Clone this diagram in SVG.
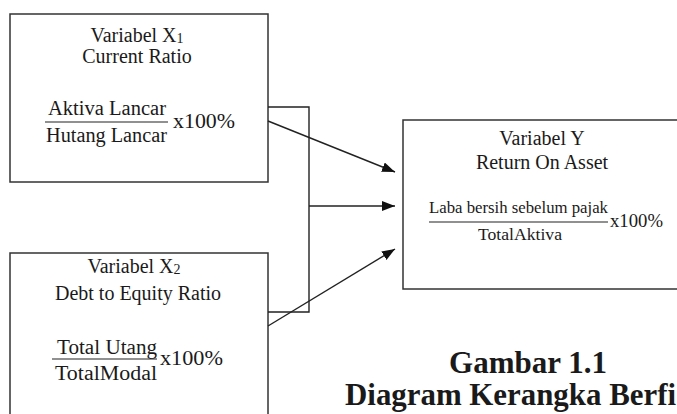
<svg xmlns="http://www.w3.org/2000/svg" width="677" height="414" viewBox="0 0 677 414">
<defs>
<style>
.box{fill:#fff;stroke:#333;stroke-width:1.5}
.ln{fill:none;stroke:#222;stroke-width:1.4}
.fr{stroke:#222;stroke-width:1.2}
text{font-family:"Liberation Serif","Times New Roman",serif;fill:#1a1a1a}
.t{font-size:20px;text-anchor:middle}
.f{font-size:20px}
.cap{font-size:31px;font-weight:bold}
</style>
<marker id="ah" markerUnits="userSpaceOnUse" markerWidth="14" markerHeight="12" refX="13" refY="5" orient="auto">
<path d="M0,0 L13,5 L0,10 Z" fill="#111"/>
</marker>
</defs>
<rect width="677" height="414" fill="#fff"/>
<g id="x1">
<rect class="box" x="10" y="14" width="258" height="168"/>
<text class="t" x="137" y="42">Variabel X<tspan font-size="14" dy="1">1</tspan></text>
<text class="t" x="137" y="63">Current Ratio</text>
<text class="f" x="48" y="115" textLength="118" lengthAdjust="spacingAndGlyphs">Aktiva Lancar</text>
<line class="fr" x1="45" y1="122" x2="168" y2="122"/>
<text class="f" x="46" y="142" textLength="121" lengthAdjust="spacingAndGlyphs">Hutang Lancar</text>
<text class="f" x="173" y="128" textLength="62" lengthAdjust="spacingAndGlyphs">x100%</text>
</g>
<g id="x2">
<rect class="box" x="10" y="253" width="258" height="180"/>
<text class="t" x="134" y="273">Variabel X<tspan font-size="14" dy="1">2</tspan></text>
<text class="t" x="138" y="300">Debt to Equity Ratio</text>
<text class="f" x="57" y="354" textLength="100" lengthAdjust="spacingAndGlyphs">Total Utang</text>
<line class="fr" x1="52" y1="359" x2="157" y2="359"/>
<text class="f" x="55" y="380" textLength="102" lengthAdjust="spacingAndGlyphs">TotalModal</text>
<text class="f" x="160" y="365" textLength="63" lengthAdjust="spacingAndGlyphs">x100%</text>
</g>
<g id="y">
<rect class="box" x="403" y="120" width="290" height="169"/>
<text class="t" x="542" y="145">Variabel Y</text>
<text class="t" x="542" y="169">Return On Asset</text>
<text x="429" y="213" font-size="17" textLength="179" lengthAdjust="spacingAndGlyphs">Laba bersih sebelum pajak</text>
<line class="fr" x1="429" y1="222" x2="608" y2="222"/>
<text x="478" y="240" font-size="17" textLength="84" lengthAdjust="spacingAndGlyphs">TotalAktiva</text>
<text x="610" y="227" font-size="19" textLength="53" lengthAdjust="spacingAndGlyphs">x100%</text>
</g>
<g id="connectors">
<polyline class="ln" points="268,107 309,107 309,312 268,312"/>
<line class="ln" x1="309" y1="206" x2="395" y2="206" marker-end="url(#ah)"/>
<line class="ln" x1="268" y1="121" x2="395" y2="172" marker-end="url(#ah)"/>
<line class="ln" x1="268" y1="326" x2="395" y2="249" marker-end="url(#ah)"/>
</g>
<g id="caption">
<text class="cap" x="528" y="373" text-anchor="middle">Gambar 1.1</text>
<text class="cap" x="345" y="405" textLength="331" lengthAdjust="spacingAndGlyphs">Diagram Kerangka Berfi</text>
</g>
</svg>
